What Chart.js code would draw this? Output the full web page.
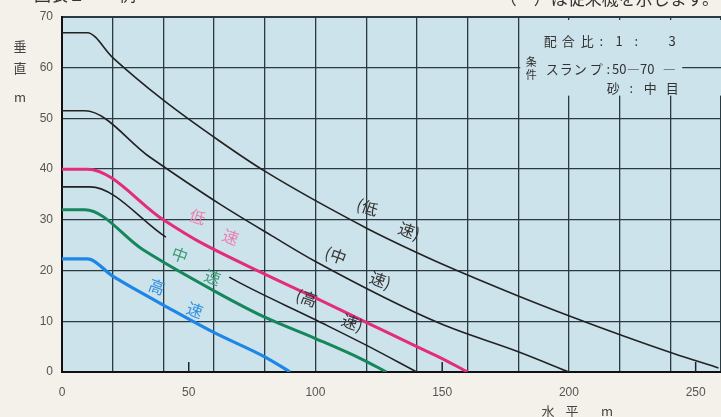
<!DOCTYPE html>
<html>
<head>
<meta charset="utf-8">
<script src="https://cdn.jsdelivr.net/npm/chart.js@4/dist/chart.umd.min.js"></script>
<style>
  body { margin: 0; background: #f3f1ea; }
  #wrap { width: 721px; height: 417px; }
</style>
</head>
<body>
<div id="wrap"><canvas id="myChart" width="721" height="417"></canvas></div>
<script>
// horizontal distance (m) / vertical height (m)
var oldLowX  = [0, 10, 20, 40, 62, 80, 120, 138, 149, 180, 201, 221, 241, 259];
var oldLowY  = [66.9, 66.9, 62, 53.6, 45.6, 39.6, 28.4, 24, 21.5, 15, 10.9, 7.2, 3.7, 0.8];
var oldMidX  = [0, 9, 34.6, 62, 83, 100, 149, 180, 200];
var oldMidY  = [51.5, 51.5, 42.4, 33.2, 26.8, 21.8, 9.6, 4, 0];
var oldHighX = [0, 11, 41, 66, 100, 120, 140];
var oldHighY = [36.5, 36.5, 26.6, 18.7, 10.3, 5.3, 0];
var newLowX  = [0, 10, 40, 53, 80, 100, 120, 140, 149, 160];
var newLowY  = [40, 40, 30, 26, 19.3, 14.6, 9.8, 5, 2.9, 0];
var newMidX  = [0, 9, 32, 60, 80, 100, 118, 128];
var newMidY  = [32, 32, 24.1, 16, 10.8, 6.6, 2.6, 0];
var newHighX = [0, 10, 20, 30.7, 40, 59.5, 80.7, 90];
var newHighY = [22.3, 22.3, 18.9, 15.8, 13.2, 7.9, 2.8, 0];

var xTickLabels = [0, 50, 100, 150, 200, 250];
var yTickLabels = [0, 10, 20, 30, 40, 50, 60, 70];

// curve captions: [text, x(m), y(m), colour]
var captions = [
  ["(低", 120.5, 32.5, "#333"], ["速)", 137, 27.8, "#333"],
  ["(中", 108, 23, "#333"],     ["速)", 125.6, 18.1, "#333"],
  ["(高", 96.5, 14.6, "#333"],  ["速)", 114.6, 9.7, "#333"],
  ["低", 53.5, 30.6, "#ea7fae"], ["速", 66.5, 26.6, "#ea7fae"],
  ["中", 46.5, 23.1, "#3a9c74"], ["速", 59.4, 18.7, "#3a9c74"],
  ["高", 37.4, 16.8, "#2f8fe0"], ["速", 52.4, 12.2, "#2f8fe0"]
];

var JP = '"Noto Sans CJK JP", "Noto Sans", sans-serif';

function pts(xs, ys) {
  var out = [];
  for (var i = 0; i < xs.length; i++) out.push({x: xs[i], y: ys[i]});
  return out;
}

function line(xs, ys, color, width) {
  return {
    data: pts(xs, ys),
    borderColor: color,
    borderWidth: width,
    pointRadius: 0,
    fill: false,
    cubicInterpolationMode: "monotone"
  };
}

var oldHigh = line(oldHighX, oldHighY, "#222", 1.6);
// the old high-speed curve is broken where the green caption sits
oldHigh.segment = {
  borderColor: function (c) { return c.p0DataIndex === 2 ? "rgba(0,0,0,0)" : "#222"; }
};

var decor = {
  id: "decor",
  beforeDraw: function (chart) {
    var ctx = chart.ctx, a = chart.chartArea;
    ctx.save();
    ctx.fillStyle = "#f3f1ea";
    ctx.fillRect(0, 0, chart.width, chart.height);
    ctx.fillStyle = "#cde3ec";
    ctx.fillRect(a.left, a.top, a.right - a.left, a.bottom - a.top);
    ctx.restore();
  },
  beforeDatasetsDraw: function (chart) {
    var ctx = chart.ctx, a = chart.chartArea;
    var xs = chart.scales.x, ys = chart.scales.y;
    // conditions box over the grid
    var bl = xs.getPixelForValue(180) + 2;
    var bt = a.top + 3;
    var bb = ys.getPixelForValue(54.5);
    ctx.save();
    ctx.fillStyle = "#cde3ec";
    ctx.fillRect(bl, bt, a.right - bl, bb - bt);
    // grid line of 60 m shows again at the far right
    ctx.strokeStyle = "#2a3a40";
    ctx.lineWidth = 1.3;
    ctx.beginPath();
    ctx.moveTo(bl + 162, ys.getPixelForValue(60));
    ctx.lineTo(a.right, ys.getPixelForValue(60));
    ctx.stroke();

    ctx.fillStyle = "#333";
    ctx.textAlign = "center";
    ctx.textBaseline = "middle";
    ctx.font = "13px " + JP;
    var r1 = bt + 21, r2 = bt + 49, r3 = bt + 68;
    [["配", 30], ["合", 48], ["比", 67], [":", 81], ["1", 99], [":", 116], ["3", 152]].forEach(function (t) {
      ctx.fillText(t[0], bl + t[1], r1);
    });
    [["ス", 32], ["ラ", 46], ["ン", 60], ["プ", 76], [":", 88], ["50", 99], ["―", 113], ["70", 127], ["―", 149]].forEach(function (t) {
      ctx.fillText(t[0], bl + t[1], r2);
    });
    [["砂", 93], [":", 111], ["中", 130], ["目", 152]].forEach(function (t) {
      ctx.fillText(t[0], bl + t[1], r3);
    });
    ctx.font = "11px " + JP;
    ctx.fillText("条", bl + 11, r2 - 7);
    ctx.fillText("件", bl + 11, r2 + 6);
    ctx.restore();
  },
  afterDatasetsDraw: function (chart) {
    var ctx = chart.ctx, a = chart.chartArea;
    var xs = chart.scales.x, ys = chart.scales.y;
    ctx.save();
    // short inner ticks at 50 / 150 / 250
    ctx.strokeStyle = "#222";
    ctx.lineWidth = 1.5;
    [50, 150, 250].forEach(function (v) {
      var px = xs.getPixelForValue(v);
      ctx.beginPath();
      ctx.moveTo(px, a.bottom);
      ctx.lineTo(px, a.bottom - 10);
      ctx.stroke();
    });
    // captions on the curves
    ctx.textAlign = "center";
    ctx.textBaseline = "middle";
    ctx.font = "16px " + JP;
    captions.forEach(function (c) {
      var px = xs.getPixelForValue(c[1]), py = ys.getPixelForValue(c[2]);
      ctx.save();
      ctx.translate(px, py);
      ctx.rotate(0.35);
      ctx.fillStyle = c[3];
      ctx.fillText(c[0], 0, 0);
      ctx.restore();
    });
    ctx.restore();
  },
  afterDraw: function (chart) {
    var ctx = chart.ctx;
    ctx.save();
    ctx.fillStyle = "#333";
    ctx.textBaseline = "alphabetic";
    ctx.font = "17px " + JP;
    ctx.textAlign = "right";
    ctx.fillText("（　）は従来機を示します。", 719, 5);
    ctx.textAlign = "left";
    ctx.fillText("図表１　　例", 34, 1);
    // axis titles
    ctx.textAlign = "center";
    ctx.textBaseline = "middle";
    ctx.font = "13px " + JP;
    ctx.fillStyle = "#444";
    ctx.fillText("垂", 20, 46);
    ctx.fillText("直", 20, 68);
    ctx.fillText("m", 20, 97);
    ctx.fillText("水", 548, 411);
    ctx.fillText("平", 572, 411);
    ctx.fillText("m", 607, 411);
    ctx.restore();
  }
};

new Chart("myChart", {
  type: "line",
  data: {
    datasets: [
      line(oldLowX, oldLowY, "#222", 1.6),
      line(oldMidX, oldMidY, "#222", 1.6),
      oldHigh,
      line(newLowX, newLowY, "#e32c7c", 3),
      line(newMidX, newMidY, "#15875a", 3),
      line(newHighX, newHighY, "#1d86e6", 3.2)
    ]
  },
  options: {
    responsive: false,
    animation: false,
    layout: { padding: { top: 17, right: 0, left: 0, bottom: 0 } },
    plugins: { legend: { display: false }, tooltip: { enabled: false } },
    scales: {
      x: {
        type: "linear",
        min: 0,
        max: 260,
        afterFit: function (s) { s.height = 45; s.paddingLeft = 0; s.paddingRight = 0; },
        border: { color: "#111", width: 2 },
        grid: {
          drawTicks: false,
          lineWidth: 1.3,
          color: function (c) { return c.tick && c.tick.value % 20 === 0 ? "#2a3a40" : "rgba(0,0,0,0)"; }
        },
        ticks: {
          stepSize: 10,
          autoSkip: false,
          maxRotation: 0,
          padding: 13,
          color: "#555",
          font: { family: "Liberation Sans", size: 12 },
          callback: function (v) { return xTickLabels.indexOf(v) >= 0 ? String(v) : ""; }
        }
      },
      y: {
        min: 0,
        max: 70,
        afterFit: function (s) { s.width = 62; },
        border: { color: "#111", width: 2 },
        grid: {
          drawTicks: false,
          color: "#2a3a40",
          lineWidth: function (c) { return c.tick && c.tick.value === 70 ? 2 : 1.3; }
        },
        ticks: {
          stepSize: 10,
          padding: 9,
          color: "#555",
          font: { family: "Liberation Sans", size: 12 },
          callback: function (v) { return yTickLabels.indexOf(v) >= 0 ? String(v) : ""; }
        }
      }
    }
  },
  plugins: [decor]
});
</script>
</body>
</html>
